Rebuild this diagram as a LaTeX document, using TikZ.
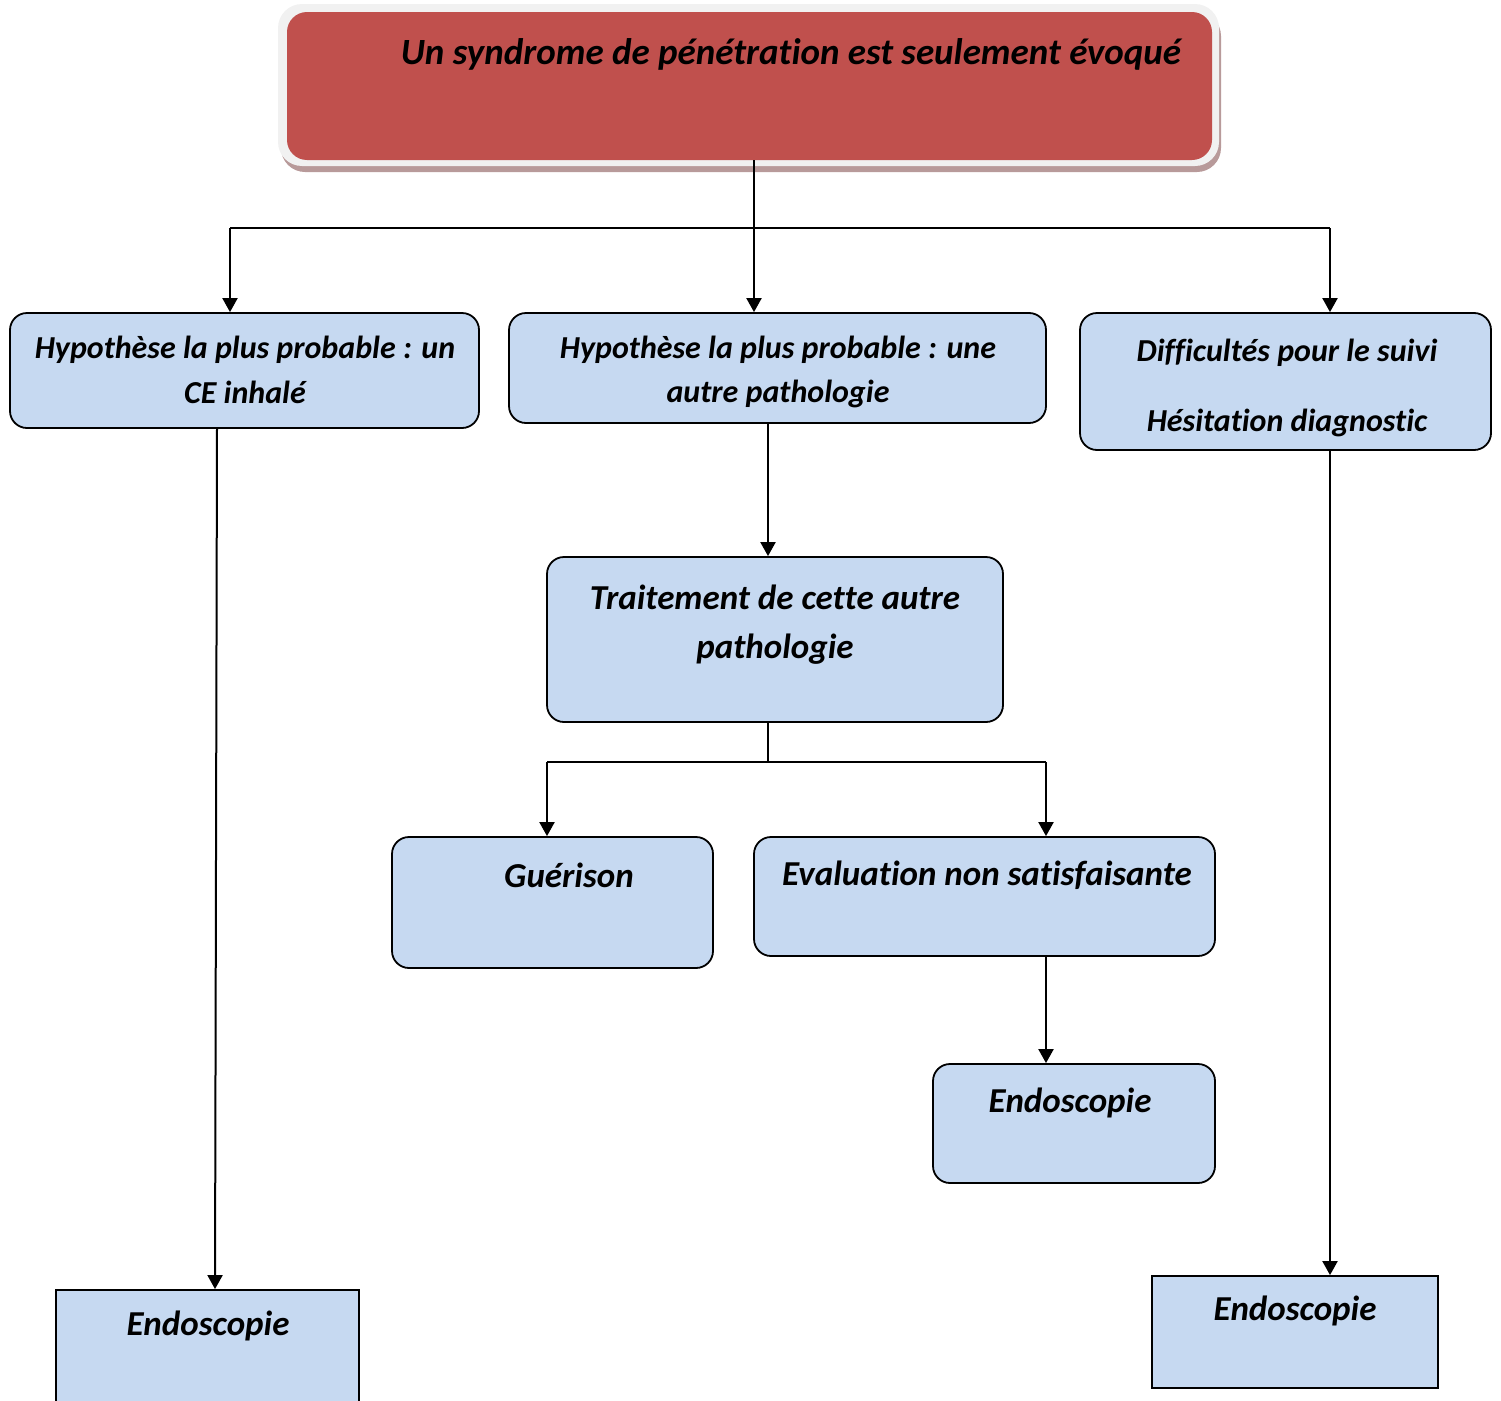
\documentclass[tikz,border=0pt]{standalone}
\usepackage{fontspec}
\setmainfont{Carlito}[Ligatures=NoCommon]
\usetikzlibrary{arrows.meta}
\definecolor{boxblue}{HTML}{C6D9F1}
\definecolor{topred}{HTML}{C0504D}
\definecolor{framegray}{HTML}{F1F1F1}
\definecolor{shadowpink}{HTML}{B89A9A}
\tikzset{
  box/.style={draw=black, line width=1.8pt, fill=boxblue, rounded corners=17pt, inner sep=0pt},
  sqbox/.style={draw=black, line width=1.8pt, fill=boxblue, inner sep=0pt},
  txt/.style={font=\fontsize{32}{38}\selectfont\bfseries\itshape, inner sep=0pt, anchor=center},
  bigtxt/.style={font=\fontsize{35}{42}\selectfont\bfseries\itshape, inner sep=0pt, anchor=center},
  link/.style={line width=2pt, draw=black},
  arr/.style={link, -{Triangle[width=15pt,length=14pt]}},
}
\begin{document}
\begin{tikzpicture}[x=1pt,y=-1pt]
\useasboundingbox (0,0) rectangle (1501,1400);
% top box with frame and shadow
\fill[shadowpink, rounded corners=24pt] (281,12) rectangle (1221,172);
\fill[framegray, rounded corners=24pt] (278,4) rectangle (1219,166);
\node[fill=topred, rounded corners=20pt, minimum width=925pt, minimum height=148pt, inner sep=0pt] (top) at (749.5,86) {};
\node[font=\fontsize{37}{44}\selectfont\bfseries\itshape, inner sep=0pt] (toptxt) at (791,54) {Un syndrome de pénétration est seulement évoqué};

% level 2
\node[box, minimum width=469pt, minimum height=115pt] (h1) at (244.5,370.5) {};
\node[txt, align=center] (h1t) at (245,370) {Hypothèse la plus probable : un\\[7pt]CE inhalé};
\node[box, minimum width=537pt, minimum height=110pt] (h2) at (777.5,368) {};
\node[txt, align=center] (h2t) at (778,372) {Hypothèse la plus probable : une\\[6pt]autre pathologie};
\node[box, minimum width=411pt, minimum height=137pt] (d) at (1285.5,381.5) {};
\node[txt, align=center] (dt) at (1287,388) {Difficultés pour le suivi\\[32pt]Hésitation diagnostic};

% middle
\node[box, minimum width=456pt, minimum height=165pt] (t) at (775,639.5) {};
\node[bigtxt, align=center] (tt) at (775,625) {Traitement de cette autre\\[7pt]pathologie};
\node[box, minimum width=321pt, minimum height=131pt] (g) at (552.5,902.5) {};
\node[bigtxt] (gt) at (569,875) {Guérison};
\node[box, minimum width=461pt, minimum height=119pt] (ev) at (984.5,896.5) {};
\node[bigtxt] (evt) at (987,875) {Evaluation non satisfaisante};
\node[box, minimum width=282pt, minimum height=119pt] (e2) at (1074,1123.5) {};
\node[bigtxt] (e2t) at (1070,1103) {Endoscopie};

% bottom
\node[sqbox, minimum width=303pt, minimum height=130pt] (e1) at (207.5,1355) {};
\node[bigtxt] (e1t) at (208,1326) {Endoscopie};
\node[sqbox, minimum width=286pt, minimum height=112pt] (e3) at (1295,1332) {};
\node[bigtxt] (e3t) at (1295,1311) {Endoscopie};

% connectors
\coordinate (busL) at (230,228);
\coordinate (busR) at (1330,228);
\coordinate (busM) at (754,228);
\draw[link] (busL) -- (busR);
\draw[arr] (top.south -| busM) -- (h2.north -| busM);
\draw[arr] (busL) -- (busL |- h1.north);
\draw[arr] (busR) -- (busR |- d.north);

\draw[arr] (h1.south -| 217,0) -- (e1.north -| 215,0);
\draw[arr] (h2.south -| 768,0) -- (t.north -| 768,0);
\draw[arr] (d.south -| busR) -- (e3.north -| busR);

\coordinate (b2M) at (768,762);
\coordinate (b2L) at (547,762);
\coordinate (b2R) at (1046,762);
\draw[link] (t.south -| b2M) -- (b2M);
\draw[link] (b2L) -- (b2R);
\draw[arr] (b2L) -- (b2L |- g.north);
\draw[arr] (b2R) -- (b2R |- ev.north);
\draw[arr] (ev.south -| b2R) -- (e2.north -| b2R);
\end{tikzpicture}
\end{document}
